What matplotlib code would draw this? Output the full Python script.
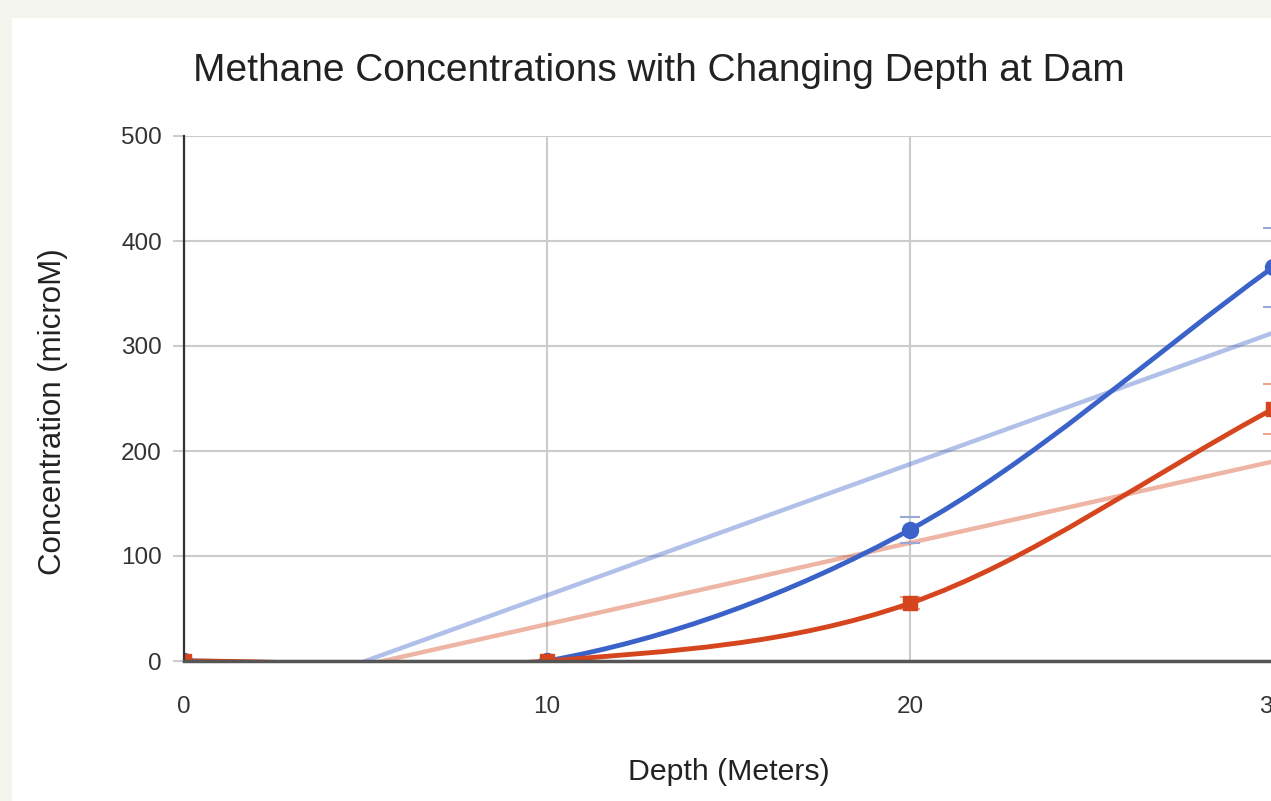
import numpy as np
import matplotlib
matplotlib.use('Agg')
import matplotlib.pyplot as plt
from matplotlib.path import Path
from matplotlib.patches import PathPatch, Rectangle

# data
depth = [0, 10, 20, 30]
conc_blue = [0, 0, 125, 375]
conc_red = [0, 0, 55, 240]
err_blue = [0, 0, 12.5, 37.5]
err_red = [0, 0, 5.5, 24]

BLUE = '#3a62c9'
RED = '#d5461e'

plt.rcParams['font.family'] = ['Liberation Sans', 'DejaVu Sans']


def smooth_path(x, y):
    """ cubic bezier through the points, like the sheets 'smooth' option """
    x = np.asarray(x, float)
    y = np.asarray(y, float)
    m = np.gradient(y, x)
    verts = [(x[0], y[0])]
    codes = [Path.MOVETO]
    for i in range(len(x) - 1):
        h = x[i + 1] - x[i]
        verts += [(x[i] + h / 3, y[i] + m[i] * h / 3),
                  (x[i + 1] - h / 3, y[i + 1] - m[i + 1] * h / 3),
                  (x[i + 1], y[i + 1])]
        codes += [Path.CURVE4] * 3
    return Path(verts, codes)


fig = plt.figure(figsize=(12.71, 8.01), dpi=100)
fig.patch.set_facecolor('#f3f5ee')
fig.patches.append(Rectangle((12 / 1271, 0), 1, 1 - 18 / 801, transform=fig.transFigure,
                             facecolor='white', edgecolor='none', zorder=-10))

px = 36.3  # pixels per metre
ax = fig.add_axes([184 / 1271, 140 / 801, 40 * px / 1271, 525 / 801])
ax.set_xlim(0, 40)
ax.set_ylim(0, 500)

# linear trendlines
xt = np.array([0, 40])
for ys, c in ((conc_blue, BLUE), (conc_red, RED)):
    k, b = np.polyfit(depth, ys, 1)
    ax.plot(xt, k * xt + b, color=c, lw=3.2, alpha=0.4, solid_capstyle='butt', zorder=2)

# smoothed series
for ys, c in ((conc_blue, BLUE), (conc_red, RED)):
    ax.add_patch(PathPatch(smooth_path(depth, ys), facecolor='none', edgecolor=c,
                           lw=3.5, zorder=3))

ax.errorbar(depth, conc_blue, yerr=err_blue, fmt='none', ecolor='#9aa8d8',
            elinewidth=0, capsize=7, capthick=1.5, zorder=2.5)
ax.errorbar(depth, conc_red, yerr=err_red, fmt='none', ecolor='#eaa48f',
            elinewidth=0, capsize=7, capthick=1.5, zorder=2.5)

ax.plot(depth, conc_blue, 'o', color=BLUE, ms=11.5, zorder=4)
ax.plot(depth, conc_red, 's', color=RED, ms=10, zorder=5)

ax.set_xticks([0, 10, 20, 30, 40])
ax.set_yticks([0, 100, 200, 300, 400, 500])
ax.grid(True, color='#cccccc', lw=1.5, zorder=0)
ax.set_axisbelow(True)
for s in ('top', 'right'):
    ax.spines[s].set_visible(False)
ax.spines['left'].set_color('#333333')
ax.spines['left'].set_linewidth(1.6)
ax.spines['bottom'].set_color('#555555')
ax.spines['bottom'].set_linewidth(2.5)
ax.spines['left'].set_zorder(6)
ax.spines['bottom'].set_zorder(6)
ax.tick_params(axis='y', length=8, width=1.5, color='#cccccc', pad=8,
               labelsize=17.5, labelcolor='#333333')
ax.tick_params(axis='x', length=0, pad=25, labelsize=17.5, labelcolor='#333333')

fig.text(659 / 1271, 1 - 71 / 801, 'Methane Concentrations with Changing Depth at Dam',
         ha='center', va='center', fontsize=28, color='#222222')
fig.text(729 / 1271, 1 - 772 / 801, 'Depth (Meters)', ha='center', va='center',
         fontsize=21.8, color='#222222')
fig.text(53 / 1271, 1 - 412 / 801, 'Concentration (microM)', ha='center', va='center',
         rotation=90, fontsize=22.5, color='#222222')

fig.savefig('out.png', dpi=100)
